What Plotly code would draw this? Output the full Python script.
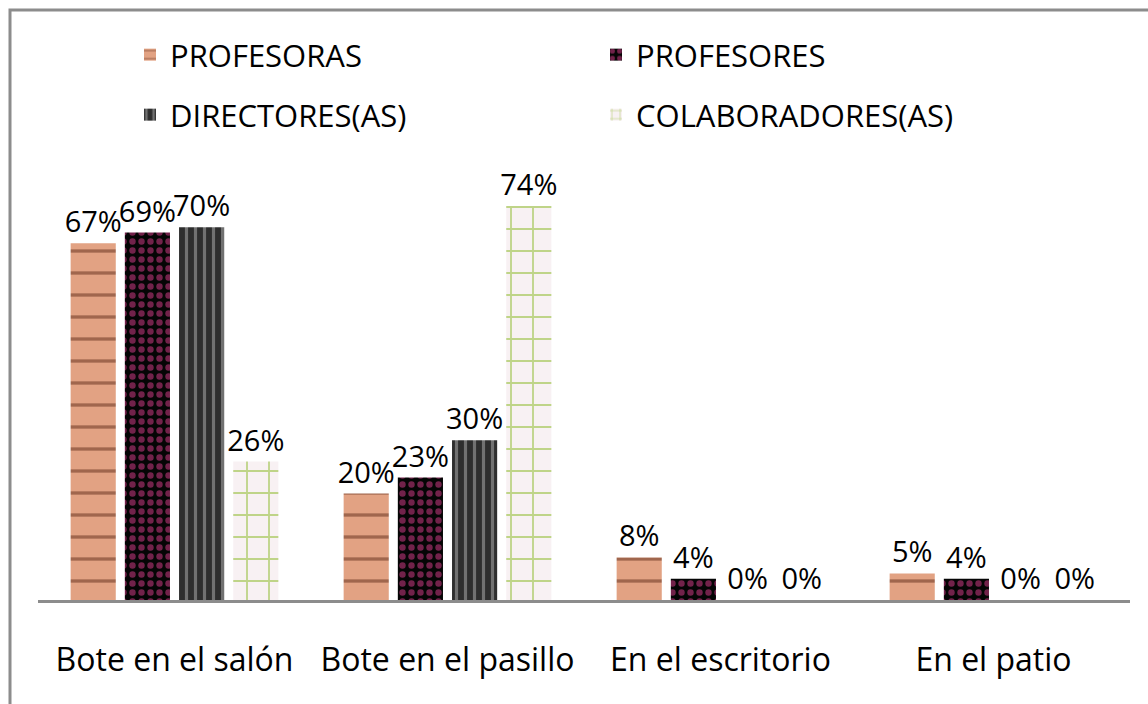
import plotly.graph_objects as go

categories = ["Bote en el salón", "Bote en el pasillo", "En el escritorio", "En el patio"]
profesoras = [67, 20, 8, 5]
profesores = [69, 23, 4, 4]
directores = [70, 30, 0, 0]
colaboradores = [26, 74, 0, 0]

FONT = "Open Sans"
W, H = 1148, 704
L, R, T, B = 38, 18, 174, 104
pw = W - L - R
ph = H - T - B

def px_x(p):
    return (p - L) / pw

def px_y(p):
    return (H - B - p) / ph

series = [
    ("PROFESORAS", profesoras, dict(shape="-", bgcolor="#e2a283", fgcolor="#5e2a18", size=22, solidity=0.15), "legend"),
    ("PROFESORES", profesores, dict(shape=".", bgcolor="#050505", fgcolor="#e0408f", size=9, solidity=0.4), "legend"),
    ("DIRECTORES(AS)", directores, dict(shape="|", bgcolor="#2e2e2e", fgcolor="#b4b4b4", size=9, solidity=0.35), "legend2"),
    ("COLABORADORES(AS)", colaboradores, dict(shape="+", bgcolor="#f8f1f3", fgcolor="#86b81e", size=22, solidity=0.16), "legend2"),
]

fig = go.Figure()
for name, vals, pat, leg in series:
    fig.add_trace(go.Bar(
        name=name, x=categories, y=vals,
        marker=dict(color=pat["bgcolor"], pattern=pat, line=dict(width=0)),
        text=[f"{v}%" for v in vals], textposition="outside", constraintext="none",
        textfont=dict(family=FONT, size=29, color="black"),
        cliponaxis=False, legend=leg,
    ))

fig.update_layout(
    width=W, height=H,
    margin=dict(l=L, r=R, t=T, b=B, autoexpand=False),
    paper_bgcolor="white", plot_bgcolor="white",
    barmode="group", bargap=0.206, bargroupgap=0.167,
    showlegend=True,
    font=dict(family=FONT, color="black"),
    legend=dict(orientation="h", x=px_x(130), xanchor="left", y=px_y(55), yanchor="middle",
                entrywidth=421, entrywidthmode="pixels",
                font=dict(family=FONT, size=31, color="black"), bgcolor="rgba(0,0,0,0)"),
    legend2=dict(orientation="h", x=px_x(130), xanchor="left", y=px_y(115), yanchor="middle",
                 entrywidth=421, entrywidthmode="pixels",
                 font=dict(family=FONT, size=31, color="black"), bgcolor="rgba(0,0,0,0)"),
    xaxis=dict(showline=True, linecolor="#8c8c8c", linewidth=3, showgrid=False, ticks="",
               tickfont=dict(family=FONT, size=32, color="black"), ticklabelstandoff=30),
    yaxis=dict(visible=False, range=[0, 80], showgrid=False, zeroline=False),
    shapes=[dict(type="rect", xref="paper", yref="paper",
                 x0=px_x(10), x1=px_x(1200), y0=px_y(760), y1=px_y(10),
                 line=dict(color="#8c8c8c", width=3), fillcolor="rgba(0,0,0,0)", layer="below")],
)

fig.write_html("out.html", config={"displayModeBar": False},
               post_script="document.body.style.margin='0';")
